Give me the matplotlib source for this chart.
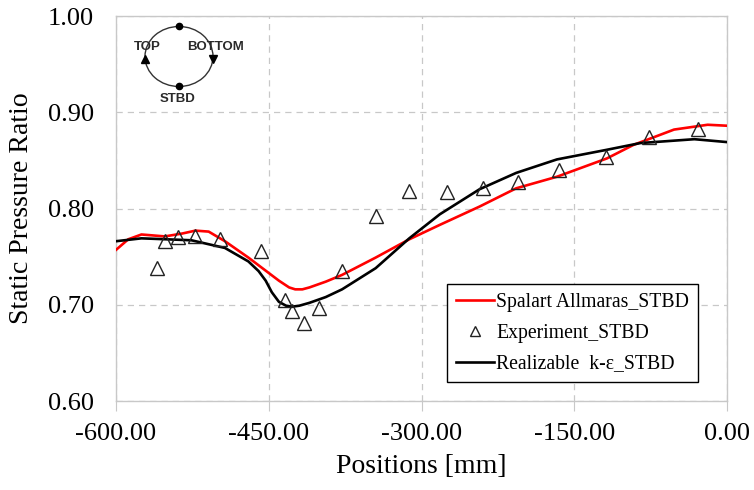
import matplotlib.pyplot as plt
from matplotlib.patches import Ellipse

# Spalart Allmaras (red)
sa_x = [-600, -588, -575, -552, -535, -522, -509, -493, -470, -450, -440, -430, -424, -417,
        -410, -394, -378, -345, -312, -282, -243, -207, -167, -118, -92, -52, -19, 0]
sa_y = [0.757, 0.768, 0.773, 0.771, 0.774, 0.777, 0.776, 0.766, 0.749, 0.733, 0.725, 0.718,
        0.716, 0.716, 0.718, 0.724, 0.731, 0.749, 0.768, 0.783, 0.802, 0.821, 0.833, 0.852,
        0.866, 0.882, 0.887, 0.886]

# Realizable k-eps (black)
rke_x = [-600, -575, -526, -493, -470, -460, -453, -447, -440, -433, -427, -420, -410, -394,
         -378, -345, -312, -282, -243, -207, -167, -118, -85, -32, 0]
rke_y = [0.766, 0.769, 0.767, 0.759, 0.745, 0.735, 0.725, 0.713, 0.703, 0.699, 0.698, 0.699,
         0.702, 0.708, 0.716, 0.738, 0.769, 0.794, 0.820, 0.837, 0.851, 0.861, 0.868, 0.872,
         0.869]

# Experiment (triangles)
exp_x = [-560, -552, -539, -522, -498, -458, -434, -427, -415, -401, -378, -345, -312, -275,
         -240, -205, -165, -119, -77, -28]
exp_y = [0.738, 0.766, 0.770, 0.771, 0.768, 0.756, 0.705, 0.693, 0.681, 0.697, 0.735, 0.792,
         0.818, 0.817, 0.821, 0.828, 0.840, 0.853, 0.874, 0.883]

x_ticks = [-600, -450, -300, -150, 0]
y_ticks = [0.60, 0.70, 0.80, 0.90, 1.00]

plt.rcParams['font.family'] = ['Liberation Serif', 'DejaVu Serif']

fig = plt.figure(figsize=(7.54, 4.90), dpi=100)
ax = fig.add_axes((116 / 754, 1 - 401 / 490, 611 / 754, 385 / 490))

grey = '#c8c8c8'
ax.plot(sa_x, sa_y, color='#ff0000', lw=1.9, label='Spalart Allmaras_STBD', zorder=3)
ax.plot(exp_x, exp_y, ls='none', marker='^', ms=9.5, mfc='none', mec='#222222', mew=1.0,
        label='Experiment_STBD', zorder=4)
ax.plot(rke_x, rke_y, color='black', lw=1.9, label='Realizable  k-\u03b5_STBD', zorder=3)

ax.set_xlim(-600, 0)
ax.set_ylim(0.60, 1.00)
ax.set_xticks(x_ticks)
ax.set_yticks(y_ticks)
ax.set_xticklabels([f'{v:.2f}' for v in x_ticks])
ax.set_yticklabels([f'{v:.2f}' for v in y_ticks])
ax.tick_params(axis='x', length=7, color=grey, labelsize=19, pad=9)
ax.tick_params(axis='y', length=0, labelsize=19, pad=16)
ax.grid(True, color=grey, ls=(0, (5, 4)), lw=0.9)
for s in ax.spines.values():
    s.set_color(grey)
    s.set_linewidth(1.0)

ax.set_xlabel('Positions [mm]', fontsize=20, labelpad=6)
ax.set_ylabel('Static Pressure Ratio', fontsize=20, labelpad=10)

leg = ax.legend(loc='upper left', bbox_to_anchor=(0.542, 0.304), fontsize=14.2,
                frameon=True, fancybox=False, edgecolor='black', framealpha=1,
                handlelength=1.9, handletextpad=0.15, labelspacing=0.6,
                borderpad=0.45, borderaxespad=0, markerscale=0.7)
leg.get_frame().set_linewidth(1.0)

# orientation sketch in the upper left
ov = fig.add_axes((0, 0, 1, 1))
ov.set_xlim(0, 754)
ov.set_ylim(490, 0)
ov.axis('off')
ov.add_patch(Ellipse((179, 56.5), 68, 60, fill=False, ec='#333333', lw=1.0))
ov.plot([179, 179], [26.5, 86.5], ls='none', marker='o', ms=4.5, color='black')
ov.plot([145], [59], marker='^', ms=5.5, color='black')
ov.plot([213], [59], marker='v', ms=5.5, color='black')
kw = dict(family=['Liberation Sans', 'DejaVu Sans'], fontsize=9.5, fontweight='bold',
          color='#2a2a2a', ha='center', va='center')
ov.text(147.5, 47, 'TOP', **kw)
ov.text(215, 47, 'BOTTOM', **kw)
ov.text(177.5, 99, 'STBD', **kw)

fig.savefig('out.png', dpi=100)
